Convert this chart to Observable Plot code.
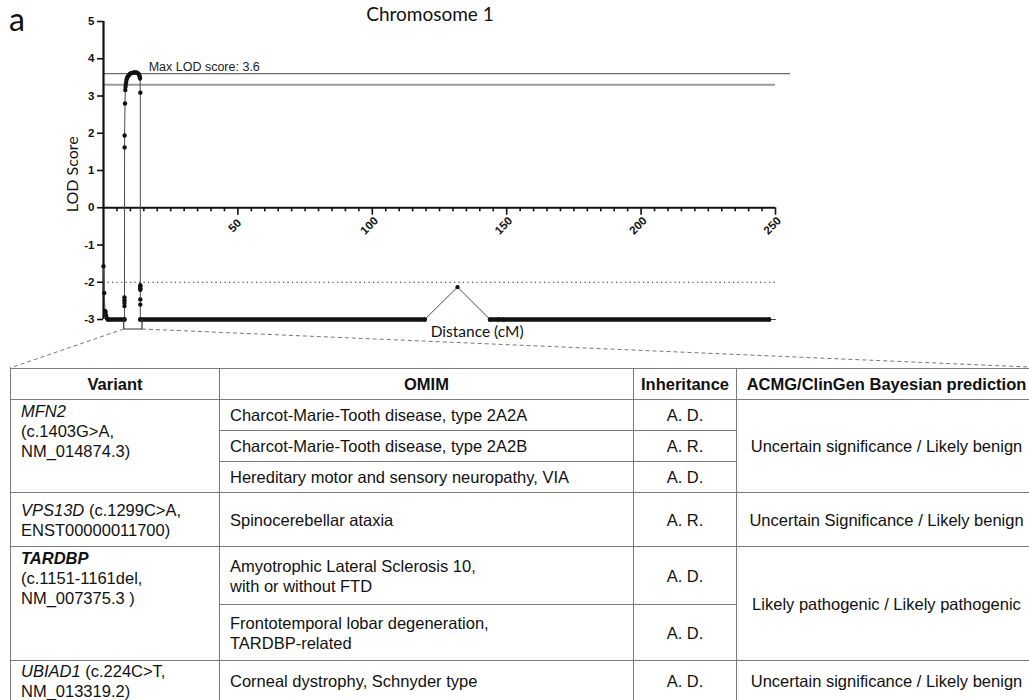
<!DOCTYPE html>
<html><head><meta charset="utf-8">
<script src="https://cdn.jsdelivr.net/npm/d3@7"></script>
<script src="https://cdn.jsdelivr.net/npm/@observablehq/plot@0.6"></script>
<style>
html,body{margin:0;padding:0;background:#fff;width:1029px;height:700px;overflow:hidden;}
#wrap{position:relative;width:1029px;height:700px;overflow:hidden;}
#panel{position:absolute;left:9px;top:3px;font-family:Lato,sans-serif;font-size:32px;line-height:32px;color:#111;}
#title{position:absolute;left:330px;width:200px;top:2px;text-align:center;font-family:Lato,sans-serif;font-size:19px;color:#111;}
#chart{position:absolute;left:0;top:0;}
#chart svg{overflow:visible;}
table{position:absolute;left:10px;top:368px;border-collapse:collapse;table-layout:fixed;width:1026px;
  font-family:"Liberation Sans",Arial,sans-serif;font-size:16.5px;color:#111;line-height:20px;}
td,th{border:1px solid #7a7a7a;padding:0 10px;vertical-align:middle;white-space:nowrap;}
th{font-weight:bold;text-align:center;padding:0 4px;}
td.c{text-align:center;}
td.top{vertical-align:top;padding-top:1px;}
</style></head>
<body><div id="wrap">
<div id="chart"></div>
<div id="panel">a</div>
<div id="title">Chromosome 1</div>
<table id="tbl"></table>
</div>
<script>
// ---------- chart data ----------
const yTicks = [-3, -2, -1, 0, 1, 2, 3, 4, 5];
const xMajor = [50, 100, 150, 200, 250];
const xMinor = [5,10,15,20,25,30,35,40,45,55,60,65,70,75,80,85,90,95,105,110,115,120,125,130,135,140,145,
  155,160,165,170,175,180,185,190,195,205,210,215,220,225,230,235,240,245];
const chromEnd = 250;
const maxLod = 3.6;
const maxLodLineEnd = 255.6;
const threshold = 3.3;
const exclusion = -2;
// LOD score points [distance cM, LOD], in order along the chromosome
const lodPoints = [
  [0.0,-1.57],[0.25,-2.29],[0.55,-2.77],[0.8,-2.8],[1.0,-2.9],[1.3,-2.97],[1.7,-3.0],
  [7.8,-3.0],[7.8,-2.64],[7.8,-2.56],[7.8,-2.48],[7.8,-2.41],[7.85,1.62],[7.85,1.94],[8.0,2.8],
  [8.1,3.16],[8.2,3.25],[8.3,3.32],[8.45,3.38],[8.6,3.44],[8.8,3.49],[9.1,3.53],[9.4,3.56],
  [9.8,3.59],[10.2,3.61],[10.7,3.62],[11.2,3.63],[11.7,3.63],[12.2,3.63],[12.6,3.62],[13.0,3.6],
  [13.3,3.56],[13.5,3.52],[13.6,3.47],[13.7,3.09],[13.7,-2.08],[13.7,-2.12],[13.7,-2.16],[13.7,-2.2],
  [13.7,-2.46],[13.7,-2.6],[13.7,-3.0],
  [119.5,-3.0],[131.7,-2.13],[143.8,-3.0],[147.0,-3.0],[147.8,-3.0],[148.6,-3.0],[247.6,-3.0]
];
// stretches of densely packed markers sitting at the floor value (-3)
const floorRuns = [[1.7,7.8],[13.7,119.5],[143.8,147.0],[148.6,247.6]];
const floorValue = -3;
// linkage interval bracket (cM)
const linkageInterval = [7.7, 14.5];

// ---------- table data ----------
const tableHeader = ["Variant", "OMIM", "Inheritance", "ACMG/ClinGen Bayesian prediction"];
const variantGene = ["MFN2", "VPS13D", "TARDBP", "UBIAD1"];
const variantRest = [
  "<br>(c.1403G&gt;A,<br>NM_014874.3)",
  " (c.1299C&gt;A,<br>ENST00000011700)",
  "<br>(c.1151-1161del,<br>NM_007375.3 )",
  " (c.224C&gt;T,<br>NM_013319.2)"
];
const variantBold = [false, false, true, false];
const variantTop = [true, false, true, false];
const omimDiseases = [
  ["Charcot-Marie-Tooth disease, type 2A2A", "Charcot-Marie-Tooth disease, type 2A2B", "Hereditary motor and sensory neuropathy, VIA"],
  ["Spinocerebellar ataxia"],
  ["Amyotrophic Lateral Sclerosis 10,<br>with or without FTD", "Frontotemporal lobar degeneration,<br>TARDBP-related"],
  ["Corneal dystrophy, Schnyder type"]
];
const inheritance = [["A. D.", "A. R.", "A. D."], ["A. R."], ["A. D.", "A. D."], ["A. D."]];
const acmg = ["Uncertain significance / Likely benign", "Uncertain Significance / Likely benign",
  "Likely pathogenic / Likely pathogenic", "Uncertain significance / Likely benign"];
const rowHeights = [[31, 31, 31], [54], [58, 56], [40]];
const headerHeight = 31;
const colWidths = [209, 414, 103, 300];

// ---------- chart ----------
const linePoints = lodPoints.concat([[chromEnd, floorValue]]);
const sans = "'Liberation Sans', Arial, sans-serif";
const plot = Plot.plot({
  width: 1029, height: 368,
  marginLeft: 103, marginRight: 254, marginTop: 21, marginBottom: 49,
  x: {domain: [0, chromEnd], axis: null},
  y: {domain: [-3, 5]},
  style: {fontFamily: sans, background: "transparent", color: "#111"},
  marks: [
    Plot.ruleY([maxLod], {x1: 0, x2: maxLodLineEnd, stroke: "#6e6e6e", strokeWidth: 1.2}),
    Plot.ruleY([threshold], {x1: 0, x2: chromEnd, stroke: "#9a9a9a", strokeWidth: 2}),
    Plot.ruleY([exclusion], {x1: 0, x2: chromEnd, stroke: "#222", strokeWidth: 1.2, strokeDasharray: "1.2,3.3"}),
    Plot.text([`Max LOD score: ${maxLod}`], {x: 16.8, y: maxLod, text: d => d, textAnchor: "start",
      lineAnchor: "bottom", dy: -3, fontSize: 12.5, fill: "#222", fontFamily: sans}),
    Plot.axisY({ticks: yTicks, tickSize: 6, tickPadding: 3, fontSize: 11.5, fontWeight: "bold",
      strokeWidth: 1.6, label: null, tickFormat: d => String(d)}),
    Plot.ruleX([0], {y1: -3, y2: 5, stroke: "#111", strokeWidth: 2.2}),
    Plot.ruleY([0], {x1: 0, x2: chromEnd, stroke: "#111", strokeWidth: 2.2}),
    Plot.ruleX(xMinor, {x: d => d, y1: 0, y2: -0.11, stroke: "#111", strokeWidth: 1.6}),
    Plot.ruleX(xMajor, {x: d => d, y1: 0, y2: -0.2, stroke: "#111", strokeWidth: 1.6}),
    Plot.text(xMajor, {x: d => d, y: 0, text: d => String(d), dy: 18, dx: -3, rotate: -45,
      fontSize: 11.5, fontWeight: "bold", fill: "#111"}),
    Plot.line(linePoints, {x: d => d[0], y: d => d[1], stroke: "#4a4a4a", strokeWidth: 1}),
    Plot.link(floorRuns, {x1: d => d[0], x2: d => d[1], y1: floorValue, y2: floorValue,
      stroke: "#111", strokeWidth: 4.4, strokeLinecap: "round"}),
    Plot.dot(lodPoints, {x: d => d[0], y: d => d[1], r: 2.2, fill: "#111", stroke: "none"}),
    Plot.text(["LOD Score"], {text: d => d, frameAnchor: "left", y: 0.9, dx: -31, rotate: -90,
      textAnchor: "middle", lineAnchor: "middle",
      fontSize: 16, fontFamily: "Lato, sans-serif", fill: "#111"}),
    Plot.text(["Distance (cM)"], {text: d => d, frameAnchor: "bottom", x: 139, dy: 13,
      textAnchor: "middle", lineAnchor: "middle",
      fontSize: 15.5, fontFamily: "Lato, sans-serif", fill: "#111"})
  ]
});
document.getElementById("chart").appendChild(plot);

// bracket under the linkage interval and dashed connectors to the table
const sx = plot.scale("x"), sy = plot.scale("y");
const svg = d3.select(plot);
const bx0 = sx.apply(linkageInterval[0]), bx1 = sx.apply(linkageInterval[1]);
const byTop = sy.apply(floorValue), byBot = byTop + 10;
svg.append("path")
  .attr("d", `M${bx0},${byTop}V${byBot}H${bx1}V${byTop}`)
  .attr("fill", "none").attr("stroke", "#333").attr("stroke-width", 1.2);
const tableTop = 368, tableLeft = 10, tableRight = 1029;
svg.append("path")
  .attr("d", `M${bx0},${byBot}L${tableLeft},${tableTop}M${bx1},${byBot}L${tableRight},${tableTop - 1}`)
  .attr("fill", "none").attr("stroke", "#777").attr("stroke-width", 1).attr("stroke-dasharray", "4,3");

// ---------- table ----------
const tbl = d3.select("#tbl");
const cg = tbl.append("colgroup");
colWidths.forEach(w => cg.append("col").style("width", w + "px"));
const hr = tbl.append("tr").style("height", headerHeight + "px");
tableHeader.forEach(h => hr.append("th").text(h));
variantGene.forEach((g, i) => {
  const n = omimDiseases[i].length;
  omimDiseases[i].forEach((dis, j) => {
    const tr = tbl.append("tr").style("height", rowHeights[i][j] + "px");
    if (j === 0) {
      const gene = variantBold[i] ? `<b><i>${g}</i></b>` : `<i>${g}</i>`;
      tr.append("td").attr("rowspan", n).attr("class", variantTop[i] ? "top" : null)
        .html(gene + variantRest[i]);
    }
    tr.append("td").html(dis);
    tr.append("td").attr("class", "c").text(inheritance[i][j]);
    if (j === 0) tr.append("td").attr("rowspan", n).attr("class", "c").text(acmg[i]);
  });
});
</script>
</body></html>
